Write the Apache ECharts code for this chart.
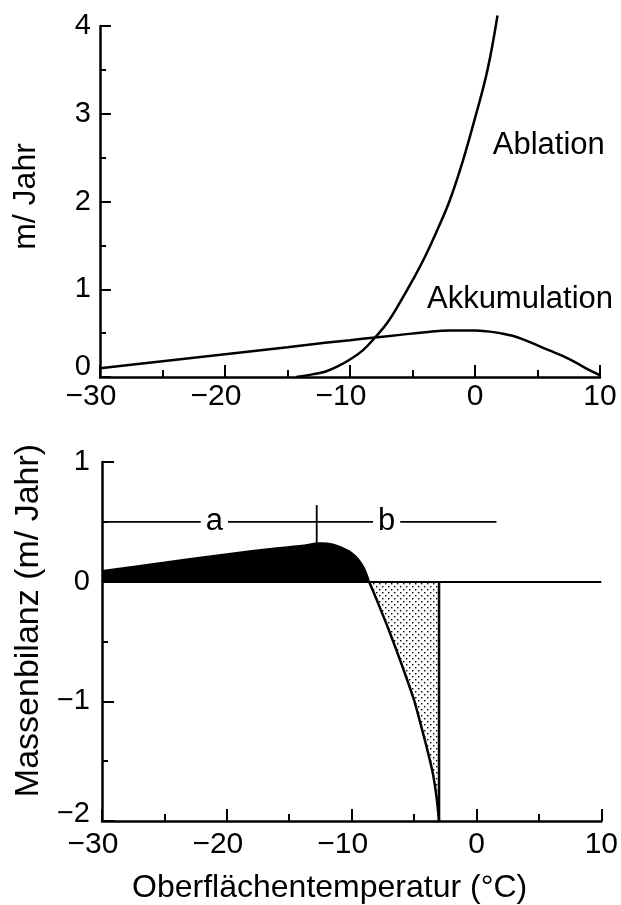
<!DOCTYPE html>
<html><head><meta charset="utf-8">
<script src="https://cdn.jsdelivr.net/npm/echarts@6/dist/echarts.min.js"></script>
<style>html,body{margin:0;padding:0;background:#fff}#c{width:621px;height:905px}</style>
</head><body><div id="c"></div>
<script>
// ---- data ----
const xTicks = [-30, -20, -10, 0, 10];
const topYTicks = [0, 1, 2, 3, 4];
const bottomYTicks = [-2, -1, 0, 1];

const accumulationT = [-30, -25, -20, -15, -12, -10, -8, -6, -4, -2, -1, 0, 1, 2, 3, 4, 5, 6, 7, 8, 9, 10];
const accumulationV = [0.10, 0.18, 0.26, 0.34, 0.39, 0.42, 0.45, 0.48, 0.51, 0.53, 0.53, 0.53, 0.52, 0.50, 0.47, 0.42, 0.36, 0.30, 0.24, 0.17, 0.09, 0.02];

const ablationT = [-14.3, -13, -12, -11, -10, -9, -8, -7, -6, -5, -4, -3, -2, -1, 0, 1, 1.8];
const ablationV = [0.0, 0.03, 0.06, 0.12, 0.20, 0.30, 0.45, 0.62, 0.85, 1.10, 1.37, 1.68, 2.02, 2.45, 2.95, 3.50, 4.12];

const balancePosT = [-30, -25, -20, -16, -14, -12.5, -11.5, -10.5, -10, -9.5, -9, -8.6];
const balancePosV = [0.09, 0.16, 0.23, 0.28, 0.30, 0.32, 0.31, 0.27, 0.24, 0.19, 0.11, 0.0];

const balanceNegT = [-8.6, -8, -7, -6, -5, -4.5, -4, -3.5, -3.2, -3];
const balanceNegV = [0.0, -0.15, -0.41, -0.69, -0.99, -1.18, -1.38, -1.60, -1.80, -2.0];

const meltLimitT = -3;
const meltLimitV = [0, -2];

const bracketY = 0.5;
const bracketT = [-30, 1.6];
const bracketDividerT = -12.8;
const bracketDividerV = [0.30, 0.64];
const bracketLabels = ['a', 'b'];
const bracketLabelT = [-21, -7.2];

const curveLabels = ['Ablation', 'Akkumulation'];
const curveLabelT = [5.9, 3.6];
const curveLabelV = [2.64, 0.88];

// ---- helpers ----
const zip = (a, b) => a.map((v, i) => [v, b[i]]);
const FONT = '"Liberation Sans", Arial, Helvetica, sans-serif';
const MINUS = '\u2212';

const pat = document.createElement('canvas');
pat.width = 6; pat.height = 6;
(function () {
  const g = pat.getContext('2d');
  g.fillStyle = '#fff'; g.fillRect(0, 0, 6, 6);
  g.fillStyle = '#000';
  g.fillRect(1, 1, 1.4, 1.4);
  g.fillRect(4, 4, 1.4, 1.4);
})();

function xFmt(v) { return v < 0 ? MINUS + Math.abs(v) + '{p| }' : String(v); }
const xRich = { p: { width: 18 } };

function xAxisCfg(gridIndex, margin, extra) {
  return Object.assign({
    type: 'value', gridIndex: gridIndex,
    min: xTicks[0], max: xTicks[xTicks.length - 1], interval: 10,
    axisLine: { show: true, onZero: false, lineStyle: { color: '#000', width: 2.5 } },
    axisTick: { show: true, inside: true, length: 12, lineStyle: { color: '#000', width: 2 } },
    minorTick: { show: true, splitNumber: 2, length: 7, lineStyle: { color: '#000', width: 2 } },
    splitLine: { show: false },
    axisLabel: { color: '#000', fontSize: 30, fontFamily: FONT, margin: margin, formatter: xFmt, rich: xRich }
  }, extra || {});
}

const plainLabel = { color: '#000', fontFamily: FONT, textBorderWidth: 0, textShadowBlur: 0, opacity: 1 };

const option = {
  backgroundColor: '#fff',
  animation: false,
  grid: [
    { left: 100, top: 26, width: 500, height: 351 },
    { left: 102, top: 462, width: 500, height: 360 }
  ],
  xAxis: [
    xAxisCfg(0, 5),
    xAxisCfg(1, 9, {
      name: 'Oberflächentemperatur (°C)', nameLocation: 'middle', nameGap: 51,
      nameTextStyle: { color: '#000', fontSize: 32, fontFamily: FONT, padding: [0, 44, 0, 0] }
    })
  ],
  yAxis: [
    {
      type: 'value', gridIndex: 0, min: topYTicks[0], max: topYTicks[topYTicks.length - 1], interval: 1,
      name: 'm/ Jahr', nameLocation: 'middle', nameGap: 58,
      nameTextStyle: { color: '#000', fontSize: 32, fontFamily: FONT, padding: [0, 0, 0, 10] },
      axisLine: { show: true, onZero: false, lineStyle: { color: '#000', width: 2.5 } },
      axisTick: { show: true, inside: true, length: 11, lineStyle: { color: '#000', width: 2 } },
      minorTick: { show: true, splitNumber: 2, length: 6, lineStyle: { color: '#000', width: 2 } },
      splitLine: { show: false },
      axisLabel: {
        color: '#000', fontSize: 29, fontFamily: FONT, margin: 9,
        formatter: v => v === 0 ? '{z|0}' : String(v),
        rich: { z: { padding: [0, 0, 20, 0] } }
      }
    },
    {
      type: 'value', gridIndex: 1, min: bottomYTicks[0], max: bottomYTicks[bottomYTicks.length - 1], interval: 1,
      name: 'Massenbilanz (m/ Jahr)', nameLocation: 'middle', nameGap: 56,
      nameTextStyle: { color: '#000', fontSize: 34, fontFamily: FONT, padding: [0, 0, 0, 42] },
      axisLine: { show: true, onZero: false, lineStyle: { color: '#000', width: 2.5 } },
      axisTick: { show: true, inside: true, length: 12, lineStyle: { color: '#000', width: 2 } },
      minorTick: { show: true, splitNumber: 2, length: 6, lineStyle: { color: '#000', width: 2 } },
      splitLine: { show: false },
      axisLabel: {
        color: '#000', fontSize: 29, fontFamily: FONT, margin: 12,
        formatter: v => v === -2 ? '{z|' + MINUS + '2}' : (v < 0 ? MINUS + Math.abs(v) : String(v)),
        rich: { z: { padding: [0, 0, 14, 0] } }
      }
    }
  ],
  series: [
    {
      name: 'Akkumulation', type: 'line', xAxisIndex: 0, yAxisIndex: 0,
      data: zip(accumulationT, accumulationV), smooth: 0.4, symbol: 'none',
      lineStyle: { color: '#000', width: 2.5 }
    },
    {
      name: 'Ablation', type: 'line', xAxisIndex: 0, yAxisIndex: 0, clip: false,
      data: zip(ablationT, ablationV), smooth: 0.4, symbol: 'none',
      lineStyle: { color: '#000', width: 2.5 }
    },
    {
      name: 'curveLabels', type: 'scatter', xAxisIndex: 0, yAxisIndex: 0, symbolSize: 0,
      itemStyle: { color: '#000', opacity: 1 },
      data: curveLabels.map((n, i) => ({ name: n, value: [curveLabelT[i], curveLabelV[i]] })),
      label: Object.assign({ show: true, position: 'inside', formatter: '{b}', fontSize: 31 }, plainLabel),
      silent: true
    },
    {
      name: 'Massenbilanz +', type: 'line', xAxisIndex: 1, yAxisIndex: 1,
      data: zip(balancePosT, balancePosV), smooth: 0.3, symbol: 'none',
      itemStyle: { color: '#000' },
      lineStyle: { color: '#000', width: 2 },
      areaStyle: { color: '#000', opacity: 1 },
      markLine: {
        silent: true, symbol: 'none', label: { show: false },
        lineStyle: { color: '#000', width: 1.8, type: 'solid' },
        data: [{ yAxis: 0 }]
      }
    },
    {
      name: 'Massenbilanz −', type: 'line', xAxisIndex: 1, yAxisIndex: 1,
      data: zip(balanceNegT, balanceNegV), smooth: 0.25, symbol: 'none',
      itemStyle: { color: '#000' },
      lineStyle: { color: '#000', width: 2.5 },
      areaStyle: { color: { image: pat, repeat: 'repeat' }, opacity: 1 }
    },
    {
      name: 'meltLimit', type: 'line', xAxisIndex: 1, yAxisIndex: 1,
      data: meltLimitV.map(v => [meltLimitT, v]), symbol: 'none',
      lineStyle: { color: '#000', width: 2.5 }
    },
    {
      name: 'bracket', type: 'line', xAxisIndex: 1, yAxisIndex: 1, z: 3,
      data: bracketT.map(t => [t, bracketY]), symbol: 'none',
      lineStyle: { color: '#000', width: 1.8 }
    },
    {
      name: 'bracketDivider', type: 'line', xAxisIndex: 1, yAxisIndex: 1, z: 3,
      data: bracketDividerV.map(v => [bracketDividerT, v]), symbol: 'none',
      lineStyle: { color: '#000', width: 1.8 }
    },
    {
      name: 'bracketLabels', type: 'scatter', xAxisIndex: 1, yAxisIndex: 1, symbolSize: 0, z: 10,
      itemStyle: { color: '#000', opacity: 1 },
      data: bracketLabels.map((n, i) => ({ name: n, value: [bracketLabelT[i], bracketY] })),
      label: Object.assign({
        show: true, position: 'inside', formatter: '{b}', fontSize: 31,
        backgroundColor: '#fff', padding: [0, 5]
      }, plainLabel),
      silent: true
    }
  ]
};

const chart = echarts.init(document.getElementById('c'), null, { renderer: 'canvas' });
chart.setOption(option);
</script>
</body></html>
